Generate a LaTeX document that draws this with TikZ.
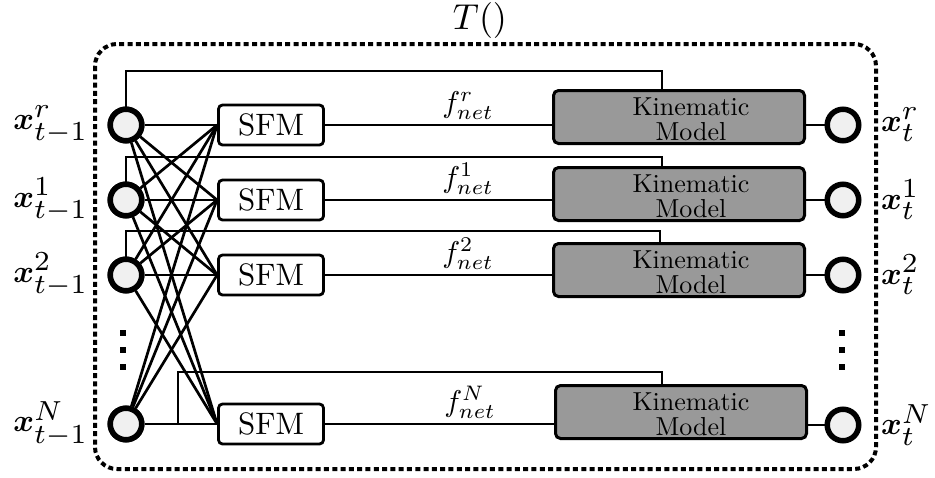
\RequirePackage{fix-cm}
\documentclass[tikz,border=0pt]{standalone}
\usepackage{graphicx}
\usepackage{bm}
% state symbol with enlarged scripts
\newcommand{\stsym}[2]{\scalebox{3.15}{$\bm{x}^{\scalebox{1.25}{$\scriptstyle #1$}}_{\scalebox{1.25}{$\scriptstyle #2$}}$}}
\newcommand{\netforce}[1]{\scalebox{3.0}{$f^{#1}_{net}$}}
\newcommand{\kinlabel}{\scalebox{2.6}{\fontsize{10}{9.2}\selectfont\begin{tabular}{@{}c@{}}Kinematic\\Model\end{tabular}}}
\begin{document}
\begin{tikzpicture}[x=1pt,y=-1pt,
  conn/.style={line width=2.7pt},
  state/.style={circle, draw, line width=5.5pt, fill=black!6, minimum size=31.5pt, inner sep=0pt},
  sfmbox/.style={draw, line width=2.8pt, rounded corners=4pt, fill=white,
    minimum width=105pt, minimum height=40pt, inner sep=0pt},
  kinbox/.style={draw, line width=3pt, rounded corners=5pt, fill=black!40,
    minimum width=251pt, minimum height=53pt, inner sep=0pt},
  kintext/.style={inner sep=0pt},
  statelabel/.style={inner sep=0pt},
  forcelabel/.style={anchor=south, inner sep=0pt},
  dotsq/.style={rectangle, fill=black, minimum size=6pt, inner sep=0pt},
  border/.style={line width=4pt, dash pattern=on 5pt off 3.3pt, rounded corners=22pt}
]
\useasboundingbox (0,0) rectangle (935,477);

% enclosing block T()
\draw[border] (95,44) rectangle (876,469);
\node[statelabel] (title) at (480,20) {\scalebox{3.6}{$T()$}};

% previous states
\node[state] (ir) at (126,125) {};
\node[state] (i1) at (126,200) {};
\node[state] (i2) at (126,275) {};
\node[state] (iN) at (126,424) {};

% social force models
\node[sfmbox] (sr) at (271,125) {\scalebox{3.1}{SFM}};
\node[sfmbox] (s1) at (271,200) {\scalebox{3.1}{SFM}};
\node[sfmbox] (s2) at (271,275) {\scalebox{3.1}{SFM}};
\node[sfmbox] (sN) at (271,424) {\scalebox{3.1}{SFM}};

% kinematic models
\node[kinbox] (kr) at (679,117) {};
\node[kinbox] (k1) at (679,194) {};
\node[kinbox] (k2) at (679,270) {};
\node[kinbox] (kN) at (681,412) {};
\node[kintext] (kr-t) at ([xshift=12pt,yshift=-6pt]kr.center) {\kinlabel};
\node[kintext] (k1-t) at ([xshift=12pt,yshift=-6pt]k1.center) {\kinlabel};
\node[kintext] (k2-t) at ([xshift=12pt,yshift=-6pt]k2.center) {\kinlabel};
\node[kintext] (kN-t) at ([xshift=10pt,yshift=-6pt]kN.center) {\kinlabel};

% next states
\node[state] (or) at (843,125) {};
\node[state] (o1) at (843,200) {};
\node[state] (o2) at (843,275) {};
\node[state] (oN) at (843,425) {};

% state labels
\node[statelabel, anchor=east] (lr) at (88,125) {\stsym{r}{t-1}};
\node[statelabel, anchor=east] (l1) at (88,200) {\stsym{1}{t-1}};
\node[statelabel, anchor=east] (l2) at (88,275) {\stsym{2}{t-1}};
\node[statelabel, anchor=east] (lN) at (88,424) {\stsym{N}{t-1}};
\node[statelabel, anchor=west] (rr) at (881,125) {\stsym{r}{t}};
\node[statelabel, anchor=west] (r1) at (881,200) {\stsym{1}{t}};
\node[statelabel, anchor=west] (r2) at (881,275) {\stsym{2}{t}};
\node[statelabel, anchor=west] (rN) at (881,425) {\stsym{N}{t}};

% vertical ellipses
\node[dotsq] (dl1) at (123,333) {};
\node[dotsq] (dl2) at (123,350) {};
\node[dotsq] (dl3) at (123,367) {};
\node[dotsq] (dr1) at (842,333) {};
\node[dotsq] (dr2) at (842,350) {};
\node[dotsq] (dr3) at (842,367) {};

% every state feeds every SFM
\foreach \i in {ir,i1,i2,iN}{
  \foreach \s in {sr,s1,s2,sN}{
    \draw[conn] (\i) -- (\s.west);
  }
}

% net forces into the kinematic models
\draw[conn] (sr.east) -- (sr.east -| kr.west);
\draw[conn] (s1.east) -- (s1.east -| k1.west);
\draw[conn] (s2.east) -- (s2.east -| k2.west);
\draw[conn] (sN.east) -- (sN.east -| kN.west);
\node[forcelabel] (fr) at (468,120) {\netforce{r}};
\node[forcelabel] (f1) at (468,195) {\netforce{1}};
\node[forcelabel] (f2) at (468,270) {\netforce{2}};
\node[forcelabel] (fN) at (470,419) {\netforce{N}};

% kinematic models to next states
\draw[conn] (kr.east |- or) -- (or);
\draw[conn] (k1.east |- o1) -- (o1);
\draw[conn] (k2.east |- o2) -- (o2);
\draw[conn] (kN.east |- oN) -- (oN);

% previous state passed straight to the kinematic model
\coordinate (tapN) at (178,424);
\draw[conn] (ir.north) |- ([xshift=-17pt,yshift=18pt]kr.north) -- ([xshift=-17pt]kr.north);
\draw[conn] (i1.north) |- ([xshift=-17pt,yshift=9pt]k1.north) -- ([xshift=-17pt]k1.north);
\draw[conn] (i2.north) |- ([xshift=-19pt,yshift=11pt]k2.north) -- ([xshift=-19pt]k2.north);
\draw[conn] (tapN) |- ([xshift=-19pt,yshift=12pt]kN.north) -- ([xshift=-19pt]kN.north);

% redraw state circles above the connectors
\foreach \y in {125,200,275,424}{
  \node[state] at (126,\y) {};
}
\end{tikzpicture}
\end{document}
